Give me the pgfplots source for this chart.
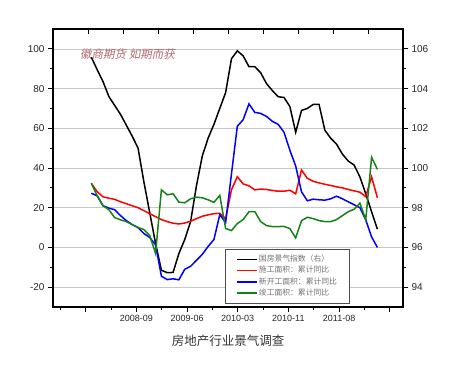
\documentclass[border=0pt]{standalone}
\usepackage{pgfplots}
\usepackage{pgfplotstable}
\pgfplotsset{compat=1.18}
\usepackage{fontspec}
\setmainfont{Liberation Sans}
\newfontfamily\cjk{Noto Sans CJK SC}
\newfontfamily\cjkslant[FakeSlant=0.2]{Noto Sans CJK SC}
\definecolor{wm}{RGB}{176,104,112}
\definecolor{cgreen}{RGB}{20,130,20}
\pgfplotstableread{
i black red blue green
0 105.58 32.3 27.3 32.3
1 104.95 28 26 26
2 104.35 25.5 21 21
3 103.6 24.8 19.8 19
4 103.15 24.2 19 15
5 102.7 23 16 13.9
6 102.15 22 13.5 13
7 101.6 21 11.5 11.5
8 101.0 20 10 10
9 99.3 18.5 7 9
10 97.75 17 5 6
11 96.2 15.5 1.3 -3
12 94.85 14 -14.5 29
13 94.73 13 -16.2 26.5
14 94.74 12.2 -15.8 27
15 95.7 11.8 -16.3 22.8
16 96.4 12.3 -11 22.5
17 97.3 13.2 -9.5 24.5
18 99.1 14.5 -6.5 25.3
19 100.6 15.7 -3.5 25
20 101.5 16.4 0.5 24
21 102.2 17 4 22.7
22 103.0 17.2 16.5 26.2
23 103.8 14.5 12.5 9.5
24 105.5 29 37 8.5
25 105.9 35.6 61 12
26 105.65 32 64.3 14
27 105.1 31 72.3 18
28 105.1 29 68 18
29 104.8 29.4 67.5 13
30 104.25 29.2 66 11
31 103.9 28.7 63.5 10.5
32 103.59 28.3 62 10.5
33 103.55 28.3 58 10.6
34 103.1 28.8 49 9.5
35 101.8 27 41 4.8
36 102.9 39 28 13.5
37 103.0 34.8 23.5 15.2
38 103.2 33.3 24.3 14.5
39 103.2 32.5 24 13.5
40 101.9 31.8 23.8 13
41 101.5 31.2 24.5 13
42 101.2 30.5 25.8 14
43 100.7 30 24.5 16
44 100.35 29.2 23 18
45 100.15 28.5 21.5 19.2
46 99.55 27.8 20 22.3
47 98.7 25.6 13.9 13.9
48 97.8 35.6 5.3 45.4
49 96.92 25 0 39.3
}\data
\pgfplotsset{
  common/.style={scale only axis, width=350pt, height=278pt,
    xmin=-6.568, xmax=53.38,
    axis line style={line width=1.1pt},
    major tick length=5pt, minor tick length=3pt,
    tick style={black, line width=0.9pt},
    tick label style={text=black!85}}
}
\begin{document}
\begin{tikzpicture}
\useasboundingbox (-53pt,-71pt) rectangle (400pt,307pt);
\begin{axis}[common,
  ymin=-30, ymax=110,
  xtick={-0.971,7.710,16.391,25.072,33.753,42.434,51.115},
  xticklabels={{},2008-09,2009-06,2010-03,2010-11,2011-08,{}},
  minor xtick={-5.312,3.370,12.051,20.732,29.413,38.094,46.775},
  xtick pos=left, ytick pos=left, tick align=outside,
  ytick={-20,0,20,40,60,80,100},
  yticklabels={-20,0,20,40,60,80,100},
  minor ytick={-10,10,30,50,70,90},
  ymajorgrids, grid style={black!22, line width=0.6pt},
  x tick label style={font=\fontsize{9}{10}\selectfont},
  y tick label style={font=\fontsize{10}{12}\selectfont},
  legend cell align=left,
  legend image code/.code={\draw[#1, line width=1.5pt] (0pt,0pt) -- (20pt,0pt);},
  legend style={at={(0.492,0.011)}, anchor=south west, draw=black!70, line width=0.6pt,
    fill=white, font=\cjk\fontsize{7.8}{9}\selectfont, text=black!55,
    inner xsep=11pt, inner ysep=6pt, row sep=1.6pt,
    nodes={inner sep=1pt, text height=6pt, text depth=1.5pt}},
]
\addplot[black, line width=1.5pt] table[x=i, y expr={(\thisrow{black}-96)*10}] {\data};
\addlegendentry{国房景气指数（右）}
\addplot[red, line width=1.5pt] table[x=i, y=red] {\data};
\addlegendentry{施工面积：累计同比}
\addplot[blue, line width=1.5pt] table[x=i, y=blue] {\data};
\addlegendentry{新开工面积：累计同比}
\addplot[cgreen, line width=1.5pt] table[x=i, y=green] {\data};
\addlegendentry{竣工面积：累计同比}
\end{axis}
\begin{axis}[common,
  ymin=93, ymax=107,
  hide x axis, axis y line*=right, tick align=outside,
  ytick={94,96,98,100,102,104,106},
  yticklabels={94,96,98,100,102,104,106},
  minor ytick={95,97,99,101,103,105},
  y tick label style={font=\fontsize{10}{12}\selectfont},
]
\end{axis}
\begin{axis}[common,
  ymin=0, ymax=1,
  hide y axis, axis x line*=top, tick align=inside,
  xtick={-0.58,5.42,11.42,17.42,23.42,29.42,35.42,41.42,47.42},
  xticklabels={},
]
\end{axis}
\node[font=\cjkslant\fontsize{11.5}{13}\selectfont, text=wm, anchor=west] at (23.7pt,252.7pt) {徽商期货 如期而获};
\node[font=\cjk\fontsize{12.5}{14}\selectfont, text=black!80] at (175pt,-33.7pt) {房地产行业景气调查};
\end{tikzpicture}
\end{document}
